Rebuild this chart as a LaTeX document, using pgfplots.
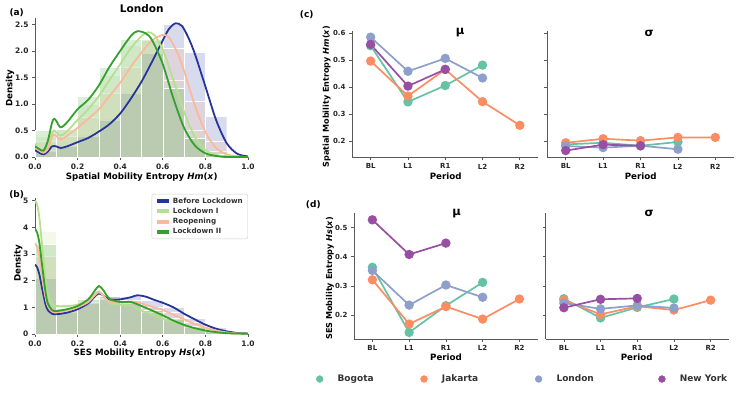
\documentclass[border=0pt]{standalone}
\usepackage{fontspec}
\setmainfont{DejaVu Sans}
\usepackage{pgfplots}
\pgfplotsset{compat=1.18}
\definecolor{cBL}{HTML}{27349A}
\definecolor{cLa}{HTML}{B5E08D}
\definecolor{cRO}{HTML}{FBB99C}
\definecolor{cLb}{HTML}{34A12D}
\definecolor{bog}{HTML}{66C2A5}
\definecolor{jak}{HTML}{FC8D62}
\definecolor{lon}{HTML}{8DA0CB}
\definecolor{nyc}{HTML}{984EA3}
\newcommand{\lab}{\bfseries\fontsize{8.7}{10}\selectfont}
\newcommand{\slab}{\bfseries\fontsize{8.1}{9}\selectfont}

\pgfplotsset{
  panel/.style={scale only axis, anchor=south west, axis lines=left,
    axis line style={-, draw=black!65, line width=0.7pt},
    every tick/.style={draw=black!65, line width=0.7pt},
    tick align=outside, major tick length=3pt,
    /pgf/number format/assume math mode=true,
    tick label style={font=\bfseries\fontsize{7.5}{8}\selectfont, text=black!85}},
  dens/.style={panel, width=213pt, xmin=0, xmax=1, ymin=0,
    xtick={0,0.2,0.4,0.6,0.8,1.0},
    xticklabel style={/pgf/number format/.cd, fixed, fixed zerofill, precision=1}},
  hist/.style={ybar, bar width=0.1, bar shift=0pt, fill=#1, fill opacity=0.18,
    draw=white, line width=0.4pt, forget plot},
  kde/.style={color=#1, line width=1.8pt, smooth, no markers},
  period/.style={panel, xmin=-0.5, xmax=4.5, xtick={0,...,4},
    xticklabels={BL,L1,R1,L2,R2},
    tick label style={font=\bfseries\fontsize{7}{8}\selectfont}},
  city/.style={color=#1, line width=1.7pt, mark=*, mark size=3.8pt,
    mark options={solid, fill=#1, draw=#1}},
}

\begin{document}
\begin{tikzpicture}[x=1pt,y=1pt]
\useasboundingbox (0,0) rectangle (748,392);

% ---------------- (a) spatial entropy density
\begin{axis}[dens, at={(35pt,235pt)}, height=139pt, ymax=2.62,
  ytick={0,0.5,1,1.5,2,2.5},
  yticklabel style={/pgf/number format/.cd, fixed, fixed zerofill, precision=1}]
\addplot[hist=cBL] coordinates {(0.05,0.10) (0.15,0.20) (0.25,0.40) (0.35,0.70) (0.45,1.21) (0.55,1.95) (0.65,2.50) (0.75,1.98) (0.85,0.77) (0.95,0.05)};
\addplot[hist=cLa] coordinates {(0.05,0.40) (0.15,0.55) (0.25,1.00) (0.35,1.55) (0.45,2.10) (0.55,2.22) (0.65,1.45) (0.75,0.50) (0.85,0.10) (0.95,0.01)};
\addplot[hist=cRO] coordinates {(0.05,0.30) (0.15,0.40) (0.25,0.75) (0.35,1.20) (0.45,1.70) (0.55,2.20) (0.65,2.05) (0.75,1.05) (0.85,0.30) (0.95,0.02)};
\addplot[hist=cLb] coordinates {(0.05,0.50) (0.15,0.52) (0.25,1.15) (0.35,1.70) (0.45,2.22) (0.55,2.22) (0.65,1.29) (0.75,0.35) (0.85,0.05) (0.95,0.00)};
\addplot[kde=cBL] coordinates {(0,0.13) (0.02,0.08) (0.04,0.05) (0.06,0.1) (0.08,0.2) (0.1,0.2) (0.12,0.17) (0.15,0.2) (0.2,0.28) (0.25,0.36) (0.3,0.48) (0.35,0.62) (0.4,0.82) (0.45,1.1) (0.5,1.42) (0.55,1.8) (0.6,2.2) (0.63,2.42) (0.66,2.52) (0.69,2.47) (0.72,2.25) (0.75,1.95) (0.8,1.33) (0.85,0.7) (0.9,0.26) (0.95,0.06) (1.0,0.01)};
\addplot[kde=cLa] coordinates {(0,0.25) (0.02,0.15) (0.04,0.1) (0.06,0.2) (0.08,0.45) (0.09,0.5) (0.1,0.47) (0.12,0.4) (0.15,0.48) (0.2,0.7) (0.25,0.9) (0.3,1.15) (0.35,1.45) (0.4,1.75) (0.45,2.05) (0.5,2.28) (0.53,2.35) (0.56,2.3) (0.6,2.02) (0.65,1.45) (0.7,0.85) (0.75,0.38) (0.8,0.13) (0.85,0.04) (0.9,0.01) (1,0)};
\addplot[kde=cRO] coordinates {(0,0.18) (0.02,0.12) (0.04,0.08) (0.06,0.15) (0.08,0.38) (0.09,0.42) (0.1,0.4) (0.12,0.33) (0.15,0.4) (0.2,0.55) (0.25,0.72) (0.3,0.9) (0.35,1.15) (0.4,1.4) (0.45,1.7) (0.5,1.97) (0.55,2.2) (0.6,2.3) (0.63,2.25) (0.67,1.95) (0.7,1.62) (0.75,0.98) (0.8,0.47) (0.85,0.17) (0.9,0.05) (0.95,0.01) (1,0)};
\addplot[kde=cLb] coordinates {(0,0.2) (0.02,0.15) (0.04,0.12) (0.06,0.3) (0.08,0.65) (0.09,0.72) (0.1,0.68) (0.12,0.56) (0.15,0.65) (0.2,0.9) (0.25,1.08) (0.3,1.35) (0.35,1.7) (0.4,2.0) (0.45,2.28) (0.48,2.37) (0.52,2.33) (0.55,2.2) (0.6,1.75) (0.65,1.1) (0.7,0.55) (0.75,0.22) (0.8,0.07) (0.85,0.02) (0.9,0) (1,0)};
\end{axis}

% ---------------- (b) SES entropy density
\begin{axis}[dens, at={(35pt,58pt)}, height=136pt, ymax=5.1,
  ytick={0,1,2,3,4,5},
  legend style={at={(axis description cs:1.0,1.03)}, anchor=north east,
    draw=black!20, rounded corners=2pt, fill=white,
    font=\bfseries\fontsize{7.2}{8}\selectfont, text=black!80,
    inner xsep=3pt, inner ysep=2pt, row sep=0pt,
    nodes={inner ysep=1.6pt, inner xsep=2pt}},
  legend cell align=left,
  legend image code/.code={\draw[#1, line width=4pt] (0pt,0pt) -- (12pt,0pt);}]
\addplot[hist=cBL] coordinates {(0.05,2.10) (0.15,0.80) (0.25,1.15) (0.35,1.45) (0.45,1.40) (0.55,1.25) (0.65,1.00) (0.75,0.60) (0.85,0.25) (0.95,0.05)};
\addplot[hist=cLa] coordinates {(0.05,3.85) (0.15,1.05) (0.25,1.40) (0.35,1.30) (0.45,1.15) (0.55,0.80) (0.65,0.55) (0.75,0.25) (0.85,0.10) (0.95,0.02)};
\addplot[hist=cRO] coordinates {(0.05,2.90) (0.15,0.95) (0.25,1.20) (0.35,1.35) (0.45,1.25) (0.55,1.00) (0.65,0.80) (0.75,0.45) (0.85,0.15) (0.95,0.03)};
\addplot[hist=cLb] coordinates {(0.05,3.35) (0.15,0.95) (0.25,1.30) (0.35,1.40) (0.45,1.20) (0.55,0.90) (0.65,0.60) (0.75,0.30) (0.85,0.10) (0.95,0.02)};
\addplot[kde=cBL] coordinates {(0,2.6) (0.01,2.5) (0.02,2.25) (0.03,1.85) (0.04,1.45) (0.05,1.1) (0.06,0.9) (0.08,0.76) (0.1,0.74) (0.15,0.8) (0.2,0.93) (0.25,1.15) (0.28,1.4) (0.3,1.52) (0.32,1.45) (0.35,1.3) (0.4,1.3) (0.45,1.38) (0.48,1.45) (0.52,1.4) (0.56,1.28) (0.6,1.17) (0.65,1.0) (0.7,0.76) (0.75,0.55) (0.8,0.35) (0.85,0.2) (0.9,0.1) (0.95,0.04) (1,0.02)};
\addlegendentry{Before Lockdown}
\addplot[kde=cLa] coordinates {(0,5.0) (0.01,4.85) (0.02,4.4) (0.03,3.6) (0.04,2.8) (0.05,2.0) (0.06,1.5) (0.08,1.12) (0.1,1.05) (0.15,1.05) (0.2,1.1) (0.25,1.28) (0.28,1.5) (0.3,1.6) (0.32,1.45) (0.35,1.15) (0.4,1.1) (0.45,1.05) (0.5,0.88) (0.55,0.72) (0.6,0.58) (0.65,0.45) (0.7,0.32) (0.75,0.2) (0.8,0.12) (0.85,0.06) (0.9,0.03) (1,0.01)};
\addlegendentry{Lockdown I}
\addplot[kde=cRO] coordinates {(0,3.4) (0.01,3.25) (0.02,2.9) (0.03,2.35) (0.04,1.8) (0.05,1.35) (0.06,1.05) (0.08,0.85) (0.1,0.82) (0.15,0.88) (0.2,1.0) (0.25,1.2) (0.28,1.45) (0.3,1.57) (0.32,1.45) (0.35,1.2) (0.4,1.18) (0.45,1.22) (0.5,1.15) (0.55,1.02) (0.6,0.9) (0.65,0.72) (0.7,0.55) (0.75,0.38) (0.8,0.24) (0.85,0.13) (0.9,0.06) (0.95,0.02) (1,0.01)};
\addlegendentry{Reopening}
\addplot[kde=cLb] coordinates {(0,3.95) (0.01,3.8) (0.02,3.45) (0.03,2.8) (0.04,2.15) (0.05,1.55) (0.06,1.15) (0.08,0.9) (0.1,0.86) (0.15,0.93) (0.2,1.05) (0.25,1.3) (0.28,1.62) (0.3,1.8) (0.32,1.65) (0.35,1.32) (0.4,1.2) (0.45,1.2) (0.5,1.05) (0.55,0.88) (0.6,0.7) (0.65,0.5) (0.7,0.34) (0.75,0.22) (0.8,0.13) (0.85,0.07) (0.9,0.03) (1,0.01)};
\addlegendentry{Lockdown II}
\end{axis}

% ---------------- (c) spatial entropy, mean
\begin{axis}[period, at={(352pt,234.7pt)}, width=186.5pt, height=126.6pt,
  ymin=0.139, ymax=0.61, ytick={0.2,0.3,0.4,0.5,0.6},
  yticklabel style={/pgf/number format/.cd, fixed, fixed zerofill, precision=1}]
\addplot[city=bog] coordinates {(0,0.554) (1,0.345) (2,0.406) (3,0.482)};
\addplot[city=jak] coordinates {(0,0.497) (1,0.367) (2,0.466) (3,0.346) (4,0.258)};
\addplot[city=lon] coordinates {(0,0.586) (1,0.459) (2,0.507) (3,0.434)};
\addplot[city=nyc] coordinates {(0,0.559) (1,0.404) (2,0.466)};
\end{axis}

% ---------------- (c) spatial entropy, std
\begin{axis}[period, at={(547pt,234.7pt)}, width=187pt, height=126.6pt,
  ymin=0.139, ymax=0.61, ytick={0.2,0.3,0.4,0.5,0.6}, yticklabels={}]
\addplot[city=bog] coordinates {(0,0.187) (1,0.193) (2,0.182) (3,0.196)};
\addplot[city=jak] coordinates {(0,0.193) (1,0.208) (2,0.201) (3,0.213) (4,0.213)};
\addplot[city=lon] coordinates {(0,0.181) (1,0.175) (2,0.182) (3,0.169)};
\addplot[city=nyc] coordinates {(0,0.164) (1,0.186) (2,0.182)};
\end{axis}

% ---------------- (d) SES entropy, mean
\begin{axis}[period, at={(354pt,53pt)}, width=183.8pt, height=126.3pt,
  ymin=0.1175, ymax=0.5515, ytick={0.2,0.3,0.4,0.5},
  yticklabel style={/pgf/number format/.cd, fixed, fixed zerofill, precision=1},
  legend columns=4,
  legend style={at={(axis description cs:-0.206,-0.317)}, anchor=west,
    draw=none, fill=none, inner sep=0pt,
    nodes={inner sep=0pt}, font=\bfseries\fontsize{9}{10}\selectfont, text=black!80,
    /tikz/every odd column/.style={column sep=14.5pt}},
  legend image code/.code={\draw[#1, mark size=3.4pt, line width=0.5pt] plot coordinates {(0pt,0pt)};}]
\addplot[city=bog] coordinates {(0,0.364) (1,0.140) (2,0.232) (3,0.312)};
\addlegendentry{\makebox[83pt][l]{Bogota}}
\addplot[city=jak] coordinates {(0,0.321) (1,0.169) (2,0.229) (3,0.186) (4,0.255)};
\addlegendentry{\makebox[93.3pt][l]{Jakarta}}
\addplot[city=lon] coordinates {(0,0.353) (1,0.234) (2,0.303) (3,0.261)};
\addlegendentry{\makebox[102pt][l]{London}}
\addplot[city=nyc] coordinates {(0,0.527) (1,0.408) (2,0.447)};
\addlegendentry{New York}
\end{axis}

% ---------------- (d) SES entropy, std
\begin{axis}[period, at={(545.5pt,53pt)}, width=183.5pt, height=126.3pt,
  ymin=0.1175, ymax=0.5515, ytick={0.2,0.3,0.4,0.5}, yticklabels={}]
\addplot[city=bog] coordinates {(0,0.256) (1,0.190) (2,0.226) (3,0.255)};
\addplot[city=jak] coordinates {(0,0.251) (1,0.202) (2,0.230) (3,0.217) (4,0.251)};
\addplot[city=lon] coordinates {(0,0.241) (1,0.221) (2,0.233) (3,0.224)};
\addplot[city=nyc] coordinates {(0,0.225) (1,0.254) (2,0.257)};
\end{axis}

% ---------------- titles, panel letters and axis labels
\node[font=\bfseries\fontsize{10.5}{12}\selectfont] at (141.7,383) {London};
\node[font=\bfseries\fontsize{9}{11}\selectfont] at (16.7,379) {(a)};
\node[font=\bfseries\fontsize{9}{11}\selectfont] at (16.7,197) {(b)};
\node[font=\bfseries\fontsize{9}{11}\selectfont] at (306.7,377.7) {(c)};
\node[font=\bfseries\fontsize{9}{11}\selectfont] at (313.3,187) {(d)};
\node[font=\lab] at (141.7,214.7) {Spatial Mobility Entropy \textit{Hm}(\textit{x})};
\node[font=\lab, rotate=90] at (10,304) {Density};
\node[font=\lab] at (139.5,38.7) {SES Mobility Entropy \textit{Hs}(\textit{x})};
\node[font=\lab, rotate=90] at (18.3,128.7) {Density};
\node[font=\slab, rotate=90] at (326.7,295.3) {Spatial Mobility Entropy \textit{Hm}(\textit{x})};
\node[font=\slab, rotate=90] at (330,113.7) {SES Mobility Entropy \textit{Hs}(\textit{x})};
\node[font=\lab] at (445.7,215.3) {Period};
\node[font=\lab] at (640.7,215.3) {Period};
\node[font=\lab] at (446,34.7) {Period};
\node[font=\lab] at (636.7,34.7) {Period};
\node[font=\bfseries\fontsize{11.5}{13}\selectfont] at (460,359) {μ};
\node[font=\bfseries\fontsize{11.5}{13}\selectfont] at (649,359) {σ};
\node[font=\bfseries\fontsize{11.5}{13}\selectfont] at (456.7,178.7) {μ};
\node[font=\bfseries\fontsize{11.5}{13}\selectfont] at (649,178.7) {σ};
\end{tikzpicture}
\end{document}
